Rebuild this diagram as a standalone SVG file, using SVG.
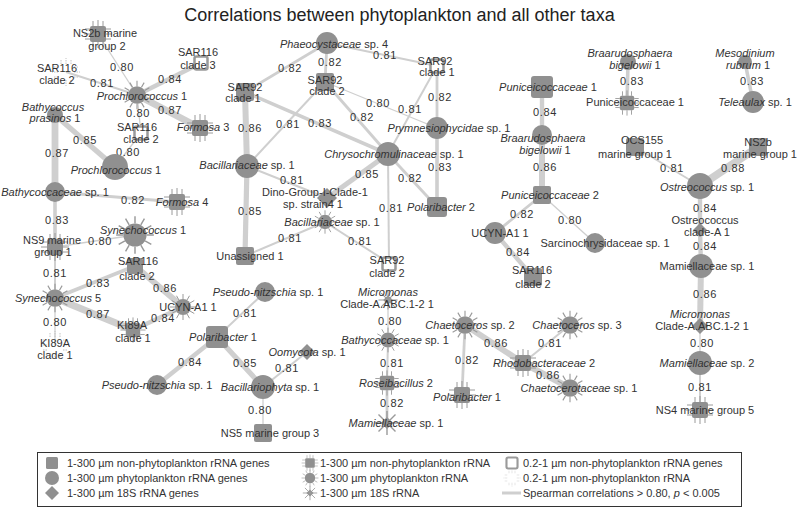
<svg xmlns="http://www.w3.org/2000/svg" xmlns:xlink="http://www.w3.org/1999/xlink" width="797" height="509" viewBox="0 0 797 509">
<style>
.n{fill:#909090}
.sp{stroke:#9a9a9a;stroke-width:1;fill:none}
.h{fill:#fff;stroke:#9a9a9a;stroke-width:2.5}
.dt{stroke:#c2c2c2;stroke-width:1;stroke-dasharray:1.5 1;fill:none}
.e{stroke:#cfcfcf;fill:none}
.w80{stroke-width:1.3}.w81{stroke-width:2}.w82{stroke-width:2.8}.w83{stroke-width:3.6}.w84{stroke-width:4.4}.w85{stroke-width:5.2}.w86{stroke-width:6}.w87{stroke-width:6.8}.w88{stroke-width:7.6}
text{font-family:"Liberation Sans",Arial,sans-serif;font-size:11px;fill:#333}
.c{text-anchor:middle}
.i{font-style:italic}
.el{letter-spacing:0.6px;text-anchor:middle}
.title{font-size:18px;fill:#222;text-anchor:middle}
</style>
<defs>
<g id="ssq"><rect x="-8" y="-8" width="16" height="16" rx="2" class="n"/><path class="sp" d="M-5,-8V-13M0,-8V-14M5,-8V-13M-5,8V13M0,8V14M5,8V13M-8,-5H-13M-8,0H-14M-8,5H-13M8,-5H13M8,0H14M8,5H13"/></g>
<g id="sci"><circle r="8" class="n"/><path class="sp" d="M8,0L13,0M6.93,4L11.26,6.5M4,6.93L6.5,11.26M0,8L0,13M-4,6.93L-6.5,11.26M-6.93,4L-11.26,6.5M-8,0L-13,0M-6.93,-4L-11.26,-6.5M-4,-6.93L-6.5,-11.26M0,-8L0,-13M4,-6.93L6.5,-11.26M6.93,-4L11.26,-6.5"/></g>
<g id="sst"><path class="n" d="M0,-6L6,0L0,6L-6,0Z"/><path class="sp" style="stroke-width:1.4" d="M0,-12V12M-12,0H12M-8.5,-8.5L8.5,8.5M-8.5,8.5L8.5,-8.5"/></g>
<g id="hsq"><rect x="-6.5" y="-6.5" width="13" height="13" rx="2" class="h"/></g>
<g id="dot"><path class="dt" d="M-5,-8V-13M0,-8V-14M5,-8V-13M-5,8V13M0,8V14M5,8V13M-8,-5H-13M-8,0H-14M-8,5H-13M8,-5H13M8,0H14M8,5H13"/></g>
</defs>
<rect width="797" height="509" fill="#fff"/>
<text class="title" x="399.5" y="21">Correlations between phytoplankton and all other taxa</text>

<g id="connectors">
<line class="e w80" x1="98" y1="34" x2="137" y2="95"/>
<line class="e w81" x1="66" y1="72" x2="137" y2="95"/>
<line class="e w84" x1="201" y1="63" x2="137" y2="95"/>
<line class="e w87" x1="137" y1="95" x2="200" y2="128"/>
<line class="e w80" x1="137" y1="95" x2="141" y2="133"/>
<line class="e w80" x1="141" y1="133" x2="115" y2="167"/>
<line class="e w85" x1="55" y1="115" x2="115" y2="167"/>
<line class="e w87" x1="55" y1="115" x2="55" y2="192"/>
<line class="e w82" x1="55" y1="192" x2="177" y2="202"/>
<line class="e w83" x1="55" y1="192" x2="55" y2="247"/>
<line class="e w80" x1="55" y1="247" x2="135" y2="235"/>
<line class="e w81" x1="55" y1="247" x2="55" y2="298"/>
<line class="e w83" x1="55" y1="298" x2="135" y2="266"/>
<line class="e w86" x1="135" y1="266" x2="183" y2="307"/>
<line class="e w87" x1="55" y1="298" x2="133" y2="330"/>
<line class="e w84" x1="133" y1="330" x2="183" y2="307"/>
<line class="e w80" x1="55" y1="298" x2="55" y2="345"/>
<line class="e w82" x1="327" y1="43" x2="245" y2="92"/>
<line class="e w82" x1="327" y1="43" x2="325" y2="82"/>
<line class="e w81" x1="327" y1="43" x2="437" y2="66"/>
<line class="e w86" x1="245" y1="92" x2="247" y2="166"/>
<line class="e w83" x1="245" y1="92" x2="388" y2="154"/>
<line class="e w81" x1="325" y1="82" x2="247" y2="166"/>
<line class="e w82" x1="325" y1="82" x2="388" y2="154"/>
<line class="e w80" x1="325" y1="82" x2="437" y2="128"/>
<line class="e w82" x1="437" y1="66" x2="437" y2="128"/>
<line class="e w81" x1="437" y1="66" x2="388" y2="154"/>
<line class="e w83" x1="437" y1="128" x2="437" y2="207"/>
<line class="e w82" x1="388" y1="154" x2="437" y2="207"/>
<line class="e w85" x1="388" y1="154" x2="327" y2="198"/>
<line class="e w81" x1="247" y1="166" x2="327" y2="198"/>
<line class="e w81" x1="388" y1="154" x2="389" y2="263"/>
<line class="e w85" x1="247" y1="166" x2="245" y2="256"/>
<line class="e w81" x1="325" y1="222" x2="245" y2="256"/>
<line class="e w81" x1="325" y1="222" x2="389" y2="263"/>
<line class="e w81" x1="265" y1="292" x2="217" y2="337"/>
<line class="e w84" x1="217" y1="337" x2="157" y2="385"/>
<line class="e w85" x1="217" y1="337" x2="263" y2="387"/>
<line class="e w81" x1="307" y1="352" x2="263" y2="387"/>
<line class="e w80" x1="263" y1="387" x2="263" y2="433"/>
<line class="e w80" x1="388" y1="300" x2="388" y2="340"/>
<line class="e w81" x1="388" y1="340" x2="387" y2="383"/>
<line class="e w82" x1="387" y1="383" x2="387" y2="423"/>
<line class="e w84" x1="542" y1="87" x2="542" y2="137"/>
<line class="e w86" x1="542" y1="137" x2="542" y2="195"/>
<line class="e w82" x1="542" y1="195" x2="495" y2="233"/>
<line class="e w80" x1="542" y1="195" x2="595" y2="243"/>
<line class="e w84" x1="495" y1="233" x2="533" y2="277"/>
<line class="e w82" x1="465" y1="325" x2="462" y2="395"/>
<line class="e w86" x1="465" y1="325" x2="523" y2="363"/>
<line class="e w81" x1="570" y1="325" x2="523" y2="363"/>
<line class="e w86" x1="523" y1="363" x2="570" y2="388"/>
<line class="e w83" x1="628" y1="62" x2="627" y2="103"/>
<line class="e w83" x1="745" y1="62" x2="753" y2="102"/>
<line class="e w81" x1="635" y1="147" x2="700" y2="186"/>
<line class="e w88" x1="758" y1="147" x2="700" y2="186"/>
<line class="e w84" x1="700" y1="186" x2="700" y2="230"/>
<line class="e w84" x1="700" y1="230" x2="701" y2="266"/>
<line class="e w86" x1="701" y1="266" x2="700" y2="326"/>
<line class="e w80" x1="700" y1="326" x2="700" y2="363"/>
<line class="e w81" x1="700" y1="363" x2="700" y2="410"/>
<g id="edge-labels">
<text class="el" x="122" y="71">0.80</text>
<text class="el" x="102" y="87">0.81</text>
<text class="el" x="170" y="83">0.84</text>
<text class="el" x="170" y="114">0.87</text>
<text class="el" x="138" y="117">0.80</text>
<text class="el" x="128" y="156">0.80</text>
<text class="el" x="85" y="144">0.85</text>
<text class="el" x="57" y="157">0.87</text>
<text class="el" x="133" y="204">0.82</text>
<text class="el" x="57" y="224">0.83</text>
<text class="el" x="100" y="245">0.80</text>
<text class="el" x="55" y="277">0.81</text>
<text class="el" x="98" y="287">0.83</text>
<text class="el" x="165" y="292">0.86</text>
<text class="el" x="98" y="318">0.87</text>
<text class="el" x="163" y="322">0.84</text>
<text class="el" x="55" y="326">0.80</text>
<text class="el" x="290" y="72">0.82</text>
<text class="el" x="330" y="66">0.82</text>
<text class="el" x="385" y="59">0.81</text>
<text class="el" x="250" y="132">0.86</text>
<text class="el" x="320" y="127">0.83</text>
<text class="el" x="288" y="128">0.81</text>
<text class="el" x="362" y="121">0.82</text>
<text class="el" x="378" y="107">0.80</text>
<text class="el" x="440" y="101">0.82</text>
<text class="el" x="410" y="113">0.81</text>
<text class="el" x="440" y="171">0.83</text>
<text class="el" x="410" y="182">0.82</text>
<text class="el" x="367" y="178">0.85</text>
<text class="el" x="292" y="184">0.81</text>
<text class="el" x="391" y="212">0.81</text>
<text class="el" x="250" y="215">0.85</text>
<text class="el" x="290" y="242">0.81</text>
<text class="el" x="360" y="245">0.81</text>
<text class="el" x="245" y="317">0.81</text>
<text class="el" x="190" y="366">0.84</text>
<text class="el" x="245" y="367">0.85</text>
<text class="el" x="287" y="372">0.81</text>
<text class="el" x="260" y="414">0.80</text>
<text class="el" x="390" y="325">0.80</text>
<text class="el" x="392" y="367">0.81</text>
<text class="el" x="392" y="407">0.82</text>
<text class="el" x="545" y="116">0.84</text>
<text class="el" x="545" y="171">0.86</text>
<text class="el" x="522" y="218">0.82</text>
<text class="el" x="570" y="224">0.80</text>
<text class="el" x="518" y="256">0.84</text>
<text class="el" x="467" y="364">0.82</text>
<text class="el" x="496" y="347">0.86</text>
<text class="el" x="550" y="347">0.81</text>
<text class="el" x="548" y="379">0.86</text>
<text class="el" x="632" y="85">0.83</text>
<text class="el" x="752" y="85">0.83</text>
<text class="el" x="672" y="172">0.81</text>
<text class="el" x="733" y="172">0.88</text>
<text class="el" x="705" y="212">0.84</text>
<text class="el" x="705" y="250">0.84</text>
<text class="el" x="705" y="298">0.86</text>
<text class="el" x="702" y="347">0.80</text>
<text class="el" x="700" y="391">0.81</text>
</g>
</g>

<g id="n-ns2b-mg2"><use href="#ssq" transform="translate(98,34)"/><text class="c" x="105" y="37">NS2b marine</text><text class="c" x="107" y="50">group 2</text></g>
<g id="n-sar116-c2-a"><use href="#dot" transform="translate(66,72)"/><text class="c" x="57" y="72">SAR116</text><text class="c" x="57" y="84">clade 2</text></g>
<g id="n-sar116-c3"><use href="#hsq" transform="translate(201,63)"/><text class="c" x="198" y="56">SAR116</text><text class="c" x="198" y="69">clade 3</text></g>
<g id="n-proch-a"><use href="#sci" transform="translate(137,95) scale(1.1)"/><text class="c" x="142" y="100"><tspan class="i">Prochlorococcus</tspan> 1</text></g>
<g id="n-formosa3"><use href="#ssq" transform="translate(200,128)"/><text class="c" x="203" y="131"><tspan class="i">Formosa</tspan> 3</text></g>
<g id="n-sar116-c2-b"><use href="#hsq" transform="translate(141,133)"/><text class="c" x="137" y="131">SAR116</text><text class="c" x="141" y="143">clade 2</text></g>
<g id="n-proch-b"><circle class="n" cx="115" cy="167" r="13"/><text class="c" x="116" y="174"><tspan class="i">Prochlorococcus</tspan> 1</text></g>
<g id="n-bathy-prasinos"><circle class="n" cx="55" cy="115" r="8"/><text class="c i" x="53" y="111">Bathycoccus</text><text class="c" x="55" y="122"><tspan class="i">prasinos</tspan> 1</text></g>
<g id="n-bathyc-a"><circle class="n" cx="55" cy="192" r="10"/><text class="c" x="55" y="196"><tspan class="i">Bathycoccaceae</tspan> sp. 1</text></g>
<g id="n-formosa4"><use href="#ssq" transform="translate(177,202)"/><text class="c" x="182" y="206"><tspan class="i">Formosa</tspan> 4</text></g>
<g id="n-ns9-mg1"><use href="#ssq" transform="translate(55,247)"/><text class="c" x="52" y="244">NS9 marine</text><text class="c" x="53" y="256">group 1</text></g>
<g id="n-syn1"><use href="#sci" transform="translate(135,235) scale(1.45)"/><text class="c" x="143" y="234"><tspan class="i">Synechococcus</tspan> 1</text></g>
<g id="n-syn5"><use href="#sci" transform="translate(55,298) scale(1.1)"/><text class="c" x="58" y="302"><tspan class="i">Synechococcus</tspan> 5</text></g>
<g id="n-sar116-c2-c"><rect class="n" x="127" y="258" width="16" height="16" rx="2"/><text class="c" x="138" y="265">SAR116</text><text class="c" x="137" y="280">clade 2</text></g>
<g id="n-ucyn-a"><use href="#sci" transform="translate(183,307)"/><text class="c" x="188" y="311">UCYN-A1 1</text></g>
<g id="n-ki89a-a"><use href="#ssq" transform="translate(133,330) scale(0.9)"/><text class="c" x="132" y="329">KI89A</text><text class="c" x="133" y="342">clade 1</text></g>
<g id="n-ki89a-b"><use href="#dot" transform="translate(55,345)"/><text class="c" x="55" y="347">KI89A</text><text class="c" x="55" y="359">clade 1</text></g>
<g id="n-pseudo-b"><circle class="n" cx="157" cy="385" r="10"/><text class="c" x="157" y="389"><tspan class="i">Pseudo-nitzschia</tspan> sp. 1</text></g>

<g id="n-phaeo"><circle class="n" cx="327" cy="43" r="11"/><text class="c" x="334" y="48"><tspan class="i">Phaeocystaceae</tspan> sp. 4</text></g>
<g id="n-sar92-c1-a"><rect class="n" x="236" y="83" width="18" height="18" rx="2"/><text class="c" x="245" y="91">SAR92</text><text class="c" x="243" y="102">clade 1</text></g>
<g id="n-sar92-c2-a"><rect class="n" x="316" y="73" width="18" height="18" rx="2"/><text class="c" x="325" y="84">SAR92</text><text class="c" x="327" y="95">clade 2</text></g>
<g id="n-sar92-c1-b"><use href="#hsq" transform="translate(437,66)"/><text class="c" x="435" y="65">SAR92</text><text class="c" x="437" y="76">clade 1</text></g>
<g id="n-bacil-a"><circle class="n" cx="247" cy="166" r="12"/><text class="c" x="247" y="169"><tspan class="i">Bacillariaceae</tspan> sp. 1</text></g>
<g id="n-chryso"><circle class="n" cx="388" cy="154" r="12"/><text class="c" x="394" y="158"><tspan class="i">Chrysochromulinaceae</tspan> sp. 1</text></g>
<g id="n-prymn"><circle class="n" cx="437" cy="128" r="11"/><text class="c" x="449" y="132"><tspan class="i">Prymnesiophycidae</tspan> sp. 1</text></g>
<g id="n-dino"><path class="n" d="M327,188L337,198L327,208L317,198Z"/><text class="c" x="315" y="196">Dino-Group-I-Clade-1</text><text class="c" x="313" y="208">sp. strain4 1</text></g>
<g id="n-bacil-b"><use href="#sci" transform="translate(325,222) scale(0.9)"/><text class="c" x="332" y="226"><tspan class="i">Bacillariaceae</tspan> sp. 1</text></g>
<g id="n-unassigned"><rect class="n" x="236" y="247" width="18" height="18" rx="2"/><text class="c" x="250" y="260">Unassigned 1</text></g>
<g id="n-sar92-c2-b"><use href="#hsq" transform="translate(389,264)"/><text class="c" x="387" y="264">SAR92</text><text class="c" x="387" y="277">clade 2</text></g>
<g id="n-polari2"><rect class="n" x="427" y="197" width="20" height="20" rx="3"/><text class="c" x="441" y="211"><tspan class="i">Polaribacter</tspan> 2</text></g>
<g id="n-pseudo-a"><circle class="n" cx="265" cy="292" r="10"/><text class="c" x="268" y="296"><tspan class="i">Pseudo-nitzschia</tspan> sp. 1</text></g>
<g id="n-polari1-a"><rect class="n" x="206" y="326" width="22" height="22" rx="3"/><text class="c" x="223" y="341"><tspan class="i">Polaribacter</tspan> 1</text></g>
<g id="n-oomy"><path class="n" d="M307,344L315,352L307,360L299,352Z"/><text class="c" x="307" y="356"><tspan class="i">Oomycota</tspan> sp. 1</text></g>
<g id="n-bacillario"><circle class="n" cx="263" cy="387" r="12"/><text class="c" x="270" y="391"><tspan class="i">Bacillariophyta</tspan> sp. 1</text></g>
<g id="n-ns5-mg3"><rect class="n" x="254" y="424" width="18" height="18" rx="2"/><text class="c" x="270" y="437">NS5 marine group 3</text></g>
<g id="n-micro-a"><use href="#sst" transform="translate(388,300) scale(0.8)"/><text class="c i" x="388" y="296">Micromonas</text><text class="c" x="387" y="308">Clade-A.ABC.1-2 1</text></g>
<g id="n-bathyc-b"><use href="#sci" transform="translate(388,340) scale(0.95)"/><text class="c" x="395" y="344"><tspan class="i">Bathycoccaceae</tspan> sp. 1</text></g>
<g id="n-rosei"><use href="#ssq" transform="translate(387,383) scale(0.9)"/><text class="c" x="396" y="387"><tspan class="i">Roseibacillus</tspan> 2</text></g>
<g id="n-mamiel-b"><use href="#sst" transform="translate(387,423)"/><text class="c" x="396" y="427"><tspan class="i">Mamiellaceae</tspan> sp. 1</text></g>

<g id="n-punic1-a"><rect class="n" x="531" y="76" width="22" height="22" rx="3"/><text class="c" x="548" y="91"><tspan class="i">Puniceicoccaceae</tspan> 1</text></g>
<g id="n-braaru-a"><circle class="n" cx="542" cy="135" r="10"/><text class="c i" x="543" y="142">Braarudosphaera</text><text class="c" x="545" y="154"><tspan class="i">bigelowii</tspan> 1</text></g>
<g id="n-punic2"><rect class="n" x="533" y="186" width="18" height="18" rx="2"/><text class="c" x="550" y="199"><tspan class="i">Puniceicoccaceae</tspan> 2</text></g>
<g id="n-ucyn-b"><circle class="n" cx="495" cy="233" r="11"/><text class="c" x="500" y="237">UCYN-A1 1</text></g>
<g id="n-sar116-c2-d"><rect class="n" x="524" y="268" width="18" height="18" rx="2"/><text class="c" x="532" y="274">SAR116</text><text class="c" x="533" y="288">clade 2</text></g>
<g id="n-sarcino"><circle class="n" cx="595" cy="243" r="10"/><text class="c" x="605" y="247">Sarcinochrysidaceae sp. 1</text></g>
<g id="n-chaeto2"><use href="#sci" transform="translate(465,325) scale(1.1)"/><text class="c" x="470" y="329"><tspan class="i">Chaetoceros</tspan> sp. 2</text></g>
<g id="n-chaeto3"><use href="#sci" transform="translate(570,325) scale(1.1)"/><text class="c" x="577" y="329"><tspan class="i">Chaetoceros</tspan> sp. 3</text></g>
<g id="n-rhodo"><use href="#ssq" transform="translate(523,363)"/><text class="c" x="544" y="367"><tspan class="i">Rhodobacteraceae</tspan> 2</text></g>
<g id="n-chaetocer"><use href="#sci" transform="translate(570,388) scale(1.1)"/><text class="c" x="579" y="392"><tspan class="i">Chaetocerotaceae</tspan> sp. 1</text></g>
<g id="n-polari1-b"><use href="#ssq" transform="translate(462,395)"/><text class="c" x="467" y="401"><tspan class="i">Polaribacter</tspan> 1</text></g>

<g id="n-braaru-b"><circle class="n" cx="628" cy="62" r="8"/><text class="c i" x="630" y="57">Braarudosphaera</text><text class="c" x="635" y="69"><tspan class="i">bigelowii</tspan> 1</text></g>
<g id="n-punic1-b"><use href="#ssq" transform="translate(627,103) scale(0.9)"/><text class="c" x="635" y="106">Puniceicoccaceae 1</text></g>
<g id="n-mesod"><circle class="n" cx="745" cy="62" r="7"/><text class="c i" x="745" y="57">Mesodinium</text><text class="c" x="748" y="69"><tspan class="i">rubrum</tspan> 1</text></g>
<g id="n-telea"><circle class="n" cx="753" cy="102" r="11"/><text class="c" x="755" y="106"><tspan class="i">Teleaulax</tspan> sp. 1</text></g>
<g id="n-ocs155"><rect class="n" x="626" y="138" width="18" height="18" rx="2"/><text class="c" x="642" y="144">OCS155</text><text class="c" x="635" y="158">marine group 1</text></g>
<g id="n-ns2b-mg1"><rect class="n" x="749" y="138" width="18" height="18" rx="2"/><text class="c" x="758" y="146">NS2b</text><text class="c" x="760" y="158">marine group 1</text></g>
<g id="n-ostreo"><circle class="n" cx="700" cy="186" r="13"/><text class="c" x="707" y="191"><tspan class="i">Ostreococcus</tspan> sp. 1</text></g>
<g id="n-ostreo-cladeA"><path class="n" d="M700,223L707,230L700,237L693,230Z"/><text class="c" x="705" y="224">Ostreococcus</text><text class="c" x="707" y="236">clade-A 1</text></g>
<g id="n-mamiel-a"><circle class="n" cx="701" cy="266" r="12"/><text class="c" x="707" y="270">Mamiellaceae sp. 1</text></g>
<g id="n-micro-b"><path class="n" d="M700,318L708,326L700,334L692,326Z"/><text class="c i" x="700" y="318">Micromonas</text><text class="c" x="702" y="330">Clade-A.ABC.1-2 1</text></g>
<g id="n-mamiel-c"><circle class="n" cx="700" cy="363" r="12"/><text class="c" x="707" y="367"><tspan class="i">Mamiellaceae</tspan> sp. 2</text></g>
<g id="n-ns4-mg5"><use href="#ssq" transform="translate(700,410)"/><text class="c" x="705" y="414">NS4 marine group 5</text></g>

<g id="legend">
<rect x="37.5" y="452.5" width="704" height="54" fill="#fff" stroke="#333" stroke-width="1"/>
<rect class="n" x="46" y="457" width="12" height="12" rx="1.5"/>
<circle class="n" cx="52" cy="478" r="7"/>
<path class="n" d="M52,486L59,493L52,500L45,493Z"/>
<text x="67" y="467">1-300 µm non-phytoplankton rRNA genes</text>
<text x="67" y="482">1-300 µm phytoplankton rRNA genes</text>
<text x="67" y="497">1-300 µm 18S rRNA genes</text>
<use href="#ssq" transform="translate(310,463) scale(0.6)"/>
<use href="#sci" transform="translate(310,478) scale(0.65)"/>
<use href="#sst" transform="translate(310,493) scale(0.6)"/>
<text x="320" y="467">1-300 µm non-phytoplankton rRNA</text>
<text x="320" y="482">1-300 µm phytoplankton rRNA</text>
<text x="320" y="497">1-300 µm 18S rRNA</text>
<use href="#hsq" transform="translate(512,463) scale(0.85)"/>
<use href="#dot" transform="translate(512,478) scale(0.6)"/>
<line x1="502" y1="493" x2="521" y2="493" stroke="#cfcfcf" stroke-width="3"/>
<text x="523" y="467">0.2-1 µm non-phytoplankton rRNA genes</text>
<text x="523" y="482">0.2-1 µm non-phytoplankton rRNA</text>
<text x="523" y="497">Spearman correlations &gt; 0.80, <tspan class="i">p</tspan> &lt; 0.005</text>
</g>
</svg>
